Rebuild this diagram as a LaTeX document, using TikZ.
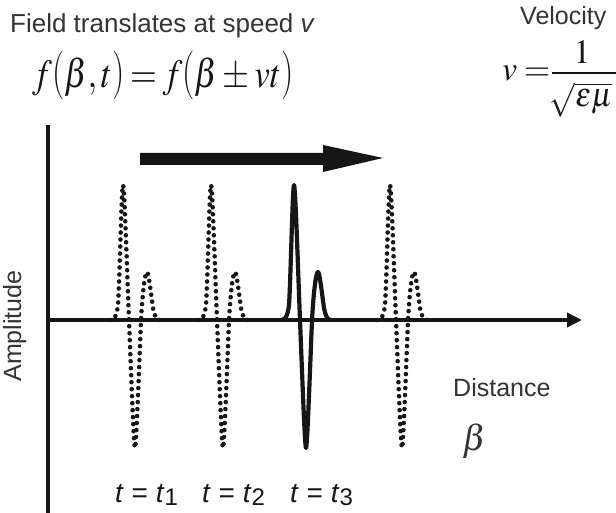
\documentclass[tikz,border=0pt]{standalone}
\usepackage{mathptmx}
\usepackage{graphicx}
\usepackage[no-math]{fontspec}
\setsansfont{Liberation Sans}
\usetikzlibrary{arrows.meta}
\definecolor{ink}{HTML}{161616}
\definecolor{txt}{HTML}{333333}
\newcommand\tlp{\mathopen{\hbox{\scalebox{1}[1.22]{(}}}}
\newcommand\trp{\mathclose{\hbox{\scalebox{1}[1.22]{)}}}}
\tikzset{
  sflabel/.style={inner sep=0pt, text=txt, font=\fontsize{25}{30}\selectfont\sffamily},
  mathlabel/.style={inner sep=0pt, text=ink, font=\fontsize{40}{44}\selectfont},
  vlabel/.style={inner sep=0pt, text=ink, font=\fontsize{34}{40}\selectfont},
  tlabel/.style={inner sep=0pt, text=ink, font=\fontsize{28}{32}\selectfont\sffamily},
  axisline/.style={draw=ink, line width=4pt},
  fracbar/.style={draw=ink, line width=1.8pt},
  solidpulse/.style={draw=ink, line width=4.2pt, line join=round, line cap=round},
  dotpulse/.style={draw=ink, line width=4.6pt, line cap=round, dash pattern=on 0pt off 7pt},
  pulse/.pic={
    \path[pic actions] (-25,0) .. controls (-21,0) and (-18.5,-3) .. (-17,-15)
      .. controls (-15.5,-35) and (-13.4,-135) .. (-12,-135)
      .. controls (-10.6,-135) and (-8,-50) .. (-6,0)
      .. controls (-4,50) and (-1.2,128) .. (0,128)
      .. controls (1.2,128) and (4,50) .. (6,0)
      .. controls (8,-35) and (10.5,-48) .. (12,-48)
      .. controls (13.5,-48) and (15.5,-30) .. (18,-12)
      .. controls (20,-2) and (22,0) .. (25,0);
  }
}
\begin{document}
\begin{tikzpicture}[x=1pt,y=-1pt]
\useasboundingbox (0,0) rectangle (616,513);
% texts
\node[sflabel, font=\fontsize{26}{30}\selectfont\sffamily, anchor=base west] (title) at (10,33) {Field translates at speed \textit{v}};
\node[mathlabel, anchor=base west] (feq) at (32,88) {\scalebox{0.865}[1]{$\thickmuskip=3mu f\tlp\beta,t\trp=f\tlp\beta\pm vt\trp$}};
\node[sflabel, anchor=base west] (vel) at (520,25) {Velocity};
\node[vlabel, anchor=base west] (veq) at (502,81) {$v\mkern3.5mu{=}$};
\coordinate (barL) at (552,73);
\coordinate (barR) at (622,73);
\draw[fracbar] (barL) -- (barR);
\node[vlabel, anchor=base] (vnum) at (582,64) {$1$};
\node[vlabel, anchor=north] (vden) at (581,82) {\scalebox{0.9}[1]{$\sqrt{\varepsilon\mu}$}};
\node[sflabel, rotate=90, anchor=base] (amp) at (21,326) {Amplitude};
\node[sflabel, anchor=base west] (dist) at (453,396) {Distance};
\node[mathlabel, font=\fontsize{36}{40}\selectfont, text=txt, anchor=base west] (beta) at (462,450) {$\beta$};
\node[tlabel, anchor=base west] (t1) at (115,502) {\textit{t} = \textit{t}\lower3pt\hbox{\fontsize{24}{24}\selectfont 1}};
\node[tlabel, anchor=base west] (t2) at (202,502) {\textit{t} = \textit{t}\lower3pt\hbox{\fontsize{24}{24}\selectfont 2}};
\node[tlabel, anchor=base west] (t3) at (290,502) {\textit{t} = \textit{t}\lower3pt\hbox{\fontsize{24}{24}\selectfont 3}};
% axes
\coordinate (O) at (48,320);
\coordinate (xend) at (582,320);
\coordinate (ytop) at (48,125);
\coordinate (ybot) at (48,520);
\draw[axisline] (ybot) -- (ytop);
\draw[axisline, -{Triangle[length=15pt,width=14pt]}] (O) -- (xend);
% motion arrow
\coordinate (ma) at (140,159);
\fill[ink] (ma) ++(0,-6) -- ++(183,0) -- ++(0,-8) -- (383,158) -- (323,172) -- (323,165) -- (140,165) -- cycle;
% pulses
\pic[dotpulse] (p1) at (135,320) {pulse};
\pic[dotpulse] (p2) at (223,320) {pulse};
\pic[solidpulse] (p3) at (306,320) {pulse};
\pic[dotpulse] (p4) at (402,320) {pulse};
\end{tikzpicture}
\end{document}
